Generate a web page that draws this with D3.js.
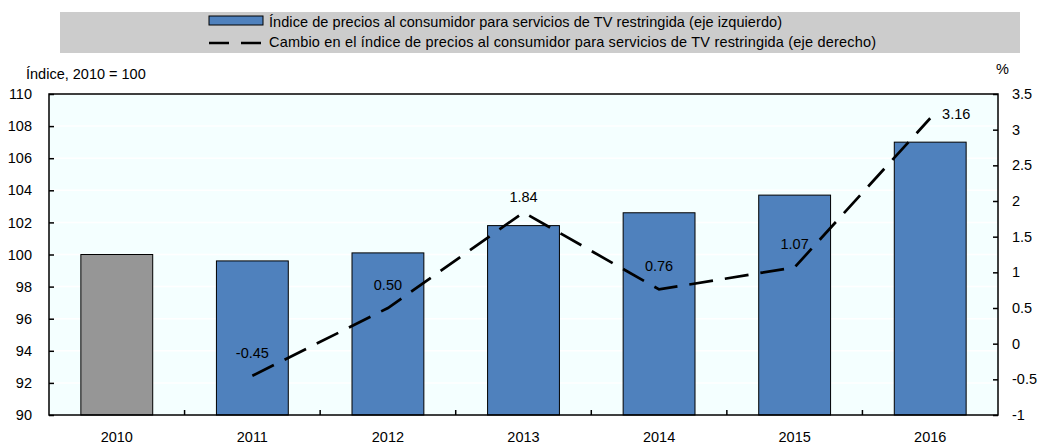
<!DOCTYPE html>
<html>
<head>
<meta charset="utf-8">
<script src="https://cdn.jsdelivr.net/npm/d3@7"></script>
<style>
  body { margin: 0; background: #fff; }
  svg { font-family: "Liberation Sans", Arial, sans-serif; }
</style>
</head>
<body>
<svg id="chart" width="1039" height="444"></svg>
<script>
// data
const years = ['2010', '2011', '2012', '2013', '2014', '2015', '2016']
const price_index = [100, 99.6, 100.1, 101.8, 102.6, 103.7, 107.0]
const change_years = ['2011', '2012', '2013', '2014', '2015', '2016']
const change_pct = [-0.45, 0.50, 1.84, 0.76, 1.07, 3.16]
const left_ticks = [90, 92, 94, 96, 98, 100, 102, 104, 106, 108, 110]
const right_ticks = [-1, -0.5, 0, 0.5, 1, 1.5, 2, 2.5, 3, 3.5]
const legend_labels = [
  'Índice de precios al consumidor para servicios de TV restringida (eje izquierdo)',
  'Cambio en el índice de precios al consumidor para servicios de TV restringida (eje derecho)'
]

const color_dict = {
  bar: '#4F81BD',
  base: '#969696',
  bg: '#F4FFFF',
  legend_bg: '#CCCCCC'
}

const margin = { left: 49, right: 41, top: 94, bottom: 29 }
const width = 1039, height = 444
const svg = d3.select('#chart')

// Legend
svg.append('rect')
  .attr('x', 60).attr('y', 12)
  .attr('width', 960).attr('height', 41)
  .style('fill', color_dict.legend_bg)

svg.append('rect')
  .attr('x', 209).attr('y', 16)
  .attr('width', 54).attr('height', 9)
  .style('fill', color_dict.bar)
  .style('stroke', '#000')
  .style('stroke-width', 1)

svg.append('line')
  .attr('x1', 209).attr('x2', 263)
  .attr('y1', 43).attr('y2', 43)
  .style('stroke', '#000')
  .style('stroke-width', 2.5)
  .style('stroke-dasharray', '20,12')

const legend_widths = [513, 607]
legend_labels.forEach((t, i) => {
  svg.append('text')
    .attr('x', 269).attr('y', 27 + i * 20)
    .attr('textLength', legend_widths[i])
    .attr('lengthAdjust', 'spacing')
    .style('font-size', '14.5px')
    .style('fill', '#000')
    .text(t)
})

// Scales
const x = d3.scaleBand()
  .domain(years)
  .range([margin.left, width - margin.right])
  .paddingInner(0.47)
  .paddingOuter(0.235)

const y_left = d3.scaleLinear()
  .domain([90, 110])
  .range([height - margin.bottom, margin.top])

const y_right = d3.scaleLinear()
  .domain([-1, 3.5])
  .range([height - margin.bottom, margin.top])

const plot_w = width - margin.left - margin.right
const plot_h = height - margin.top - margin.bottom

// Plot background
svg.append('rect')
  .attr('x', margin.left).attr('y', margin.top)
  .attr('width', plot_w).attr('height', plot_h)
  .style('fill', color_dict.bg)

// White gridlines
svg.append('g')
  .selectAll('line')
  .data(left_ticks)
  .join('line')
  .attr('x1', margin.left).attr('x2', width - margin.right)
  .attr('y1', d => y_left(d)).attr('y2', d => y_left(d))
  .style('stroke', '#fff')
  .style('stroke-width', 1.5)

// Bars
svg.append('g')
  .selectAll('rect')
  .data(years)
  .join('rect')
  .attr('x', d => x(d))
  .attr('width', x.bandwidth())
  .attr('y', (d, i) => y_left(price_index[i]))
  .attr('height', (d, i) => y_left(90) - y_left(price_index[i]))
  .style('fill', (d, i) => i == 0 ? color_dict.base : color_dict.bar)
  .style('stroke', '#000')
  .style('stroke-width', 1)

// Dashed change line
const cx = d => x(d) + x.bandwidth() / 2
const line = d3.line()
  .x((d, i) => cx(change_years[i]))
  .y(d => y_right(d))

svg.append('path')
  .datum(change_pct)
  .attr('d', line)
  .style('fill', 'none')
  .style('stroke', '#000')
  .style('stroke-width', 2.7)
  .style('stroke-dasharray', '24,12')

// Data labels
svg.append('g')
  .selectAll('text')
  .data(change_pct)
  .join('text')
  .attr('x', (d, i) => cx(change_years[i]) + (i == change_pct.length - 1 ? 26 : 0))
  .attr('y', (d, i) => y_right(d) + (i == change_pct.length - 1 ? 1 : (i == 2 ? -10 : -18)))
  .attr('text-anchor', 'middle')
  .style('font-size', '14.5px')
  .style('fill', '#000')
  .text(d => d.toFixed(2))

// Frame
svg.append('rect')
  .attr('x', margin.left).attr('y', margin.top)
  .attr('width', plot_w).attr('height', plot_h)
  .style('fill', 'none')
  .style('stroke', '#000')
  .style('stroke-width', 1.5)

// Axes
const left_axis = d3.axisLeft(y_left).tickValues(left_ticks).tickSizeInner(-5).tickSizeOuter(0).tickPadding(17)
const right_axis = d3.axisRight(y_right).tickValues(right_ticks).tickSizeInner(-5).tickSizeOuter(0).tickPadding(14)
  .tickFormat(d => String(d))

const x_ticks = d3.range(1, years.length).map(i => (x(years[i - 1]) + x.bandwidth() + x(years[i])) / 2)

function style_axis(g) {
  g.select('.domain').remove()
  g.selectAll('line').style('stroke', '#000').style('stroke-width', 1.5)
  g.selectAll('text').style('font-size', '14.5px').style('fill', '#000').style('font-family', '"Liberation Sans", Arial, sans-serif')
}

svg.append('g')
  .attr('transform', `translate(${margin.left},0)`)
  .call(left_axis)
  .call(style_axis)

svg.append('g')
  .attr('transform', `translate(${width - margin.right},0)`)
  .call(right_axis)
  .call(style_axis)

// category separators on bottom axis
svg.append('g')
  .selectAll('line')
  .data(x_ticks)
  .join('line')
  .attr('x1', d => d).attr('x2', d => d)
  .attr('y1', height - margin.bottom).attr('y2', height - margin.bottom - 5)
  .style('stroke', '#000')
  .style('stroke-width', 1.5)

svg.append('g')
  .selectAll('text')
  .data(years)
  .join('text')
  .attr('x', d => cx(d))
  .attr('y', 442)
  .attr('text-anchor', 'middle')
  .style('font-size', '14.5px')
  .style('fill', '#000')
  .text(d => d)

// Axis titles
svg.append('text')
  .attr('x', 26).attr('y', 79)
  .style('font-size', '14.5px')
  .text('Índice, 2010 = 100')

svg.append('text')
  .attr('x', 996).attr('y', 74)
  .style('font-size', '14.5px')
  .text('%')
</script>
</body>
</html>
